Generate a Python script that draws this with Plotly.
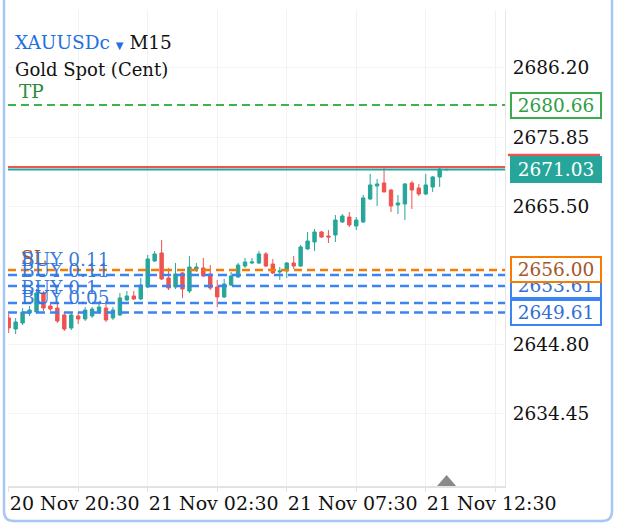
import plotly.graph_objects as go

# ---------------- data ----------------
candle_times = [
    "20 Nov 20:30", "20 Nov 20:45", "20 Nov 21:00", "20 Nov 21:15", "20 Nov 21:30", "20 Nov 21:45",
    "20 Nov 22:00", "20 Nov 22:15", "20 Nov 22:30", "20 Nov 22:45", "20 Nov 23:00", "20 Nov 23:15",
    "20 Nov 23:30", "20 Nov 23:45",
    "21 Nov 01:00", "21 Nov 01:15", "21 Nov 01:30", "21 Nov 01:45", "21 Nov 02:00", "21 Nov 02:15",
    "21 Nov 02:30", "21 Nov 02:45", "21 Nov 03:00", "21 Nov 03:15", "21 Nov 03:30", "21 Nov 03:45",
    "21 Nov 04:00", "21 Nov 04:15", "21 Nov 04:30", "21 Nov 04:45", "21 Nov 05:00", "21 Nov 05:15",
    "21 Nov 05:30", "21 Nov 05:45", "21 Nov 06:00", "21 Nov 06:15", "21 Nov 06:30", "21 Nov 06:45",
    "21 Nov 07:00", "21 Nov 07:15", "21 Nov 07:30", "21 Nov 07:45", "21 Nov 08:00", "21 Nov 08:15",
    "21 Nov 08:30", "21 Nov 08:45", "21 Nov 09:00", "21 Nov 09:15", "21 Nov 09:30", "21 Nov 09:45",
    "21 Nov 10:00", "21 Nov 10:15", "21 Nov 10:30", "21 Nov 10:45", "21 Nov 11:00", "21 Nov 11:15",
    "21 Nov 11:30", "21 Nov 11:45", "21 Nov 12:00", "21 Nov 12:15", "21 Nov 12:30", "21 Nov 12:45",
    "21 Nov 13:00", "21 Nov 13:15",
]
opens = [2648.81, 2647.16, 2648.06, 2649.55, 2649.70, 2652.55, 2650.60, 2650.30, 2649.26, 2647.31,
         2649.11, 2648.66, 2649.11, 2649.70, 2650.30, 2648.81, 2649.26, 2651.50, 2652.10, 2651.65,
         2653.44, 2657.33, 2658.53, 2654.79, 2653.44, 2655.54, 2652.84, 2656.14, 2656.29, 2655.39,
         2653.44, 2651.95, 2653.74, 2654.94, 2656.58, 2657.03, 2657.03, 2658.38, 2656.88, 2655.69,
         2655.84, 2657.03, 2656.58, 2659.13, 2660.17, 2661.67, 2661.07, 2661.22, 2663.17, 2663.91,
         2662.57, 2663.17, 2666.61, 2668.55, 2669.00, 2667.95, 2665.71, 2665.86, 2669.00, 2668.25,
         2667.35, 2668.40, 2669.90, 2670.95]
highs = [2649.41, 2648.81, 2650.30, 2650.60, 2653.14, 2652.84, 2650.90, 2651.05, 2649.70, 2649.70,
         2649.70, 2650.45, 2650.45, 2650.90, 2651.35, 2650.45, 2652.55, 2652.84, 2652.84, 2654.79,
         2658.23, 2658.83, 2660.47, 2656.29, 2657.03, 2655.69, 2658.08, 2657.03, 2657.78, 2656.73,
         2654.49, 2654.64, 2655.69, 2657.03, 2657.78, 2657.78, 2658.83, 2658.68, 2657.63, 2656.43,
         2657.18, 2658.08, 2659.73, 2661.67, 2662.12, 2661.82, 2661.97, 2664.21, 2664.36, 2664.66,
         2663.91, 2667.20, 2670.35, 2669.60, 2671.54, 2668.10, 2667.20, 2669.00, 2669.30, 2668.85,
         2670.35, 2670.05, 2671.24, 2671.10]
lows = [2646.56, 2646.41, 2647.76, 2649.11, 2649.41, 2649.85, 2649.85, 2648.06, 2646.86, 2647.01,
        2647.91, 2648.36, 2648.81, 2649.41, 2648.21, 2648.51, 2649.11, 2651.35, 2651.50, 2651.50,
        2653.29, 2657.18, 2654.49, 2652.99, 2653.14, 2651.80, 2652.55, 2655.69, 2654.94, 2652.99,
        2650.45, 2651.80, 2653.59, 2654.79, 2656.29, 2656.88, 2656.88, 2656.43, 2655.39, 2654.49,
        2654.79, 2656.14, 2656.43, 2658.98, 2658.83, 2660.77, 2660.02, 2660.17, 2663.02, 2662.42,
        2661.97, 2663.02, 2666.46, 2665.56, 2667.65, 2664.66, 2664.36, 2663.46, 2665.11, 2667.05,
        2667.20, 2667.65, 2668.40, 2670.90]
closes = [2647.31, 2648.21, 2649.70, 2650.00, 2652.55, 2650.30, 2650.15, 2648.36, 2647.16, 2649.26,
          2648.66, 2650.00, 2650.15, 2650.45, 2648.51, 2650.00, 2651.80, 2652.10, 2651.65, 2653.74,
          2657.63, 2658.38, 2654.64, 2653.29, 2655.39, 2653.14, 2656.43, 2656.43, 2655.09, 2653.29,
          2651.95, 2653.89, 2655.09, 2656.73, 2657.18, 2657.18, 2658.38, 2656.58, 2655.54, 2655.84,
          2657.03, 2656.58, 2659.43, 2660.32, 2661.67, 2660.92, 2660.92, 2663.46, 2664.06, 2662.72,
          2663.46, 2666.76, 2668.70, 2668.85, 2667.65, 2665.56, 2666.01, 2668.85, 2667.95, 2667.35,
          2668.70, 2669.90, 2671.09, 2671.03]

symbol = "XAUUSDc"
timeframe = "M15"
description = "Gold Spot (Cent)"
bid_price = 2671.03
ask_price = 2671.40
tp_price = 2680.66
sl_price = 2656.00
buy_prices = [2655.24, 2653.61, 2651.05, 2649.61]
buy_labels = ["BUY 0.11", "BUY 0.11", "BUY 0.1", "BUY 0.05"]
y_ticks = [2634.45, 2644.80, 2655.15, 2665.50, 2675.85, 2686.20]
x_grid_step = 10
x_label_step = 20

# ---------------- style ----------------
W, H = 625, 530
ML, MR, MT, MB = 8, 120, 10, 44
PW, PH = W - ML - MR, H - MT - MB
FONT = "DejaVu Serif"
TEAL = "#26a69a"
RED = "#ef5350"
GREEN_LINE = "#3cb44e"
GREEN_TEXT = "#2b8a3a"
ORANGE_LINE = "#f57c00"
ORANGE_TEXT = "#a5562a"
BLUE_LINE = "#3b84f2"
BLUE_TEXT = "rgba(48,115,215,0.95)"


def px_x(p):
    return (p - ML) / PW


def px_y(p):
    return (H - MB - p) / PH


x_idx = list(range(len(candle_times)))

fig = go.Figure()
fig.add_trace(go.Candlestick(
    x=x_idx, open=opens, high=highs, low=lows, close=closes,
    increasing=dict(line=dict(color=TEAL, width=1), fillcolor=TEAL),
    decreasing=dict(line=dict(color=RED, width=1), fillcolor=RED),
    whiskerwidth=0, showlegend=False, hoverinfo="skip",
))

shapes = []
annotations = []


def hline(y, color, width, dash="solid"):
    shapes.append(dict(type="line", xref="paper", x0=0, x1=1, yref="y", y0=y, y1=y,
                       line=dict(color=color, width=width, dash=dash), layer="above"))


# order lines
hline(tp_price, GREEN_LINE, 2, "8px,5px")
for bp in buy_prices:
    hline(bp, BLUE_LINE, 2.5, "9px,5px")
hline(sl_price, ORANGE_LINE, 2.5, "8px,5px")
hline(ask_price, RED, 2)
hline(bid_price, TEAL, 2)

# left labels of lines
annotations.append(dict(xref="paper", yref="y", x=px_x(17), y=tp_price, text="TP",
                        xanchor="left", yanchor="bottom", yshift=1, showarrow=False,
                        font=dict(family=FONT, size=18.5, color=GREEN_TEXT)))
annotations.append(dict(xref="paper", yref="y", x=px_x(19), y=sl_price, text="SL",
                        xanchor="left", yanchor="bottom", yshift=0, showarrow=False,
                        font=dict(family=FONT, size=18.5, color=ORANGE_TEXT)))
for bp, lbl in zip(buy_prices, buy_labels):
    annotations.append(dict(xref="paper", yref="y", x=px_x(19), y=bp, text=lbl,
                            xanchor="left", yanchor="bottom", yshift=3, showarrow=False,
                            font=dict(family=FONT, size=18.5, color=BLUE_TEXT)))


def price_box(y, text_color, border, bg="white"):
    annotations.append(dict(xref="paper", yref="y", x=px_x(510), y=y, text=f"{y:.2f}",
                            xanchor="left", yanchor="middle", showarrow=False,
                            width=82, height=17, borderpad=3, borderwidth=2,
                            bordercolor=border, bgcolor=bg,
                            font=dict(family=FONT, size=18.5, color=text_color)))


price_box(tp_price, "#2e9e46", "#3aac4c")
price_box(buy_prices[0], "#2f6fd6", BLUE_LINE)
price_box(buy_prices[2], "#2f6fd6", BLUE_LINE)
price_box(buy_prices[1], "#2f6fd6", BLUE_LINE)
price_box(sl_price, ORANGE_TEXT, ORANGE_LINE)
price_box(buy_prices[3], "#2f6fd6", BLUE_LINE)
price_box(bid_price, "white", TEAL, TEAL)
shapes.append(dict(type="line", xref="paper", yref="paper", x0=px_x(508), x1=px_x(600),
                   y0=px_y(155), y1=px_y(155), line=dict(color=RED, width=2.5), layer="above"))

# header
annotations.append(dict(xref="paper", yref="paper", x=px_x(13), y=px_y(43),
                        text=(f"<span style='color:#1f6fe5'>{symbol}</span> "
                              f"<span style='color:#1f6fe5;font-size:10px'>▼</span> {timeframe}"),
                        xanchor="left", yanchor="middle", showarrow=False,
                        font=dict(family=FONT, size=18.5, color="#111111")))
annotations.append(dict(xref="paper", yref="paper", x=px_x(13), y=px_y(69), text=description,
                        xanchor="left", yanchor="middle", showarrow=False,
                        font=dict(family=FONT, size=18, color="#111111")))

# current-candle marker on the time axis
last = len(candle_times) - 1
tri_half = 9.5 / (PW / 71.5)
tri_h = 11 / PH
shapes.append(dict(type="path", xref="x", yref="paper",
                   path=f"M {last - tri_half},0 L {last + tri_half},0 L {last},{tri_h} Z",
                   fillcolor="#8a8a8a", line=dict(width=0), layer="above"))

# outer rounded frame
L, R, B, T = px_x(4), px_x(612), px_y(521), px_y(-20)
rx, ry = 10 / PW, 10 / PH
shapes.append(dict(type="path", xref="paper", yref="paper",
                   path=(f"M {L},{T} L {L},{B + ry} Q {L},{B} {L + rx},{B} "
                         f"L {R - rx},{B} Q {R},{B} {R},{B + ry} L {R},{T}"),
                   line=dict(color="#a6c8f2", width=2.5), layer="above"))

tickvals_x = list(range(0, 72, x_grid_step))
ticktext_x = [candle_times[v] if (v % x_label_step == 0 and v < len(candle_times)) else ""
              for v in tickvals_x]

fig.update_layout(
    width=W, height=H,
    margin=dict(l=ML, r=MR, t=MT, b=MB),
    paper_bgcolor="white", plot_bgcolor="white",
    showlegend=False, hovermode=False,
    shapes=shapes, annotations=annotations,
    xaxis=dict(
        range=[-0.1, 71.4], rangeslider=dict(visible=False),
        tickvals=tickvals_x, ticktext=ticktext_x,
        showgrid=True, gridcolor="#f2f2f2", gridwidth=1, zeroline=False,
        showline=True, linecolor="#e2e2e2", linewidth=2,
        ticks="outside", ticklen=4, tickcolor="#e2e2e2",
        ticklabelshift=66, ticklabelstandoff=-5,
        tickfont=dict(family=FONT, size=19, color="#111111"),
    ),
    yaxis=dict(
        side="right", range=[2623.68, 2694.87],
        tickvals=y_ticks, ticktext=[f"{v:.2f}" for v in y_ticks],
        showgrid=True, gridcolor="#f4f4f4", zeroline=False,
        showline=True, linecolor="#e6e6e6", linewidth=1,
        ticks="", ticklabelstandoff=3,
        tickfont=dict(family=FONT, size=18.5, color="#111111"),
    ),
)

fig.write_html("out.html")
